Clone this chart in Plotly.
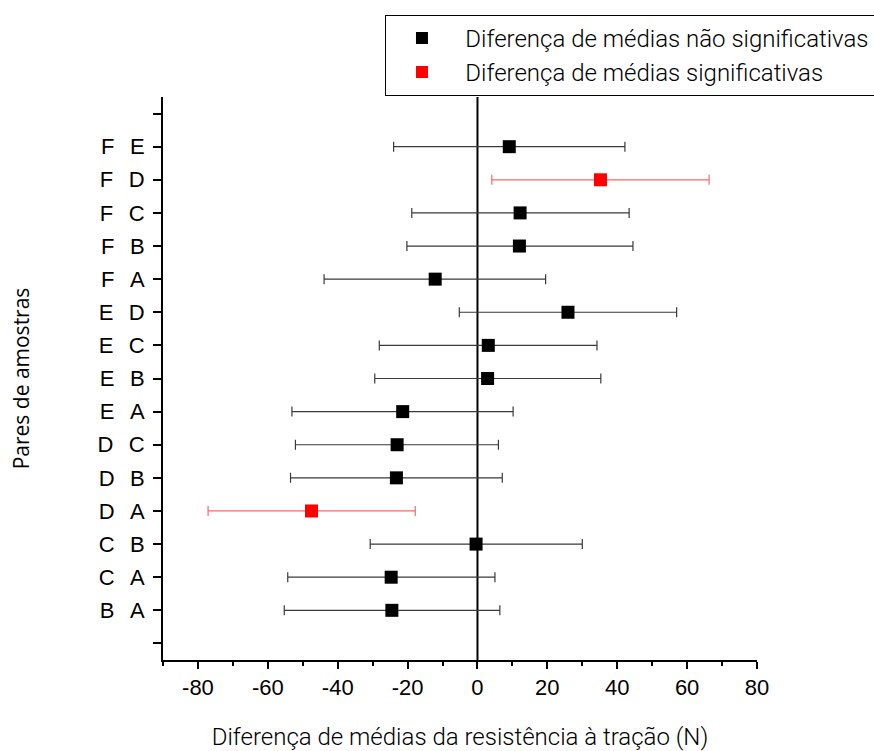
import plotly.graph_objects as go

pairs = ["B A", "C A", "C B", "D A", "D B", "D C", "E A", "E B", "E C", "E D",
         "F A", "F B", "F C", "F D", "F E"]
means = [-24.5, -24.7, -0.4, -47.5, -23.2, -23.0, -21.4, 2.9, 3.1, 25.9,
         -12.1, 12.0, 12.2, 35.2, 9.1]
lower = [-55.3, -54.3, -30.7, -77.1, -53.5, -52.1, -53.1, -29.4, -28.1, -5.2,
         -43.9, -20.2, -18.8, 4.1, -24.0]
upper = [6.4, 5.0, 30.0, -17.8, 7.1, 6.0, 10.2, 35.3, 34.2, 57.0,
         19.5, 44.5, 43.4, 66.3, 42.2]
significant = [False, False, False, True, False, False, False, False, False, False,
               False, False, False, True, False]

x_ticks = [-80, -60, -40, -20, 0, 20, 40, 60, 80]
x_tick_text = [str(v) for v in x_ticks]

tick_vals = list(range(0, len(pairs) + 2))
tick_text = [""] + [p.replace(" ", "\u2002\u2009") for p in pairs] + [""]

TITLE_FONT = "Roboto, sans-serif"
PAD = "\u00a0\u00a0\u00a0\u00a0"

fig = go.Figure()

for sig, name, mcol, ecol in [
    (False, "Diferença de médias não significativas", "black", "#3a3a3a"),
    (True, "Diferença de médias significativas", "red", "rgba(255,0,0,0.6)"),
]:
    idx = [i for i in range(len(pairs)) if significant[i] == sig]
    fig.add_trace(go.Scatter(
        x=[means[i] for i in idx],
        y=[i + 1 for i in idx],
        mode="markers",
        name=PAD + name,
        marker=dict(symbol="square", size=13, color=mcol),
        error_x=dict(
            type="data", symmetric=False,
            array=[upper[i] - means[i] for i in idx],
            arrayminus=[means[i] - lower[i] for i in idx],
            color=ecol, thickness=1.2, width=5,
        ),
    ))

fig.add_shape(type="line", xref="x", yref="paper", x0=0, x1=0, y0=0, y1=1,
              line=dict(color="black", width=2), layer="below")

fig.update_layout(
    width=874, height=751,
    margin=dict(l=163, r=117, t=97, b=91, autoexpand=False),
    paper_bgcolor="white", plot_bgcolor="white",
    font=dict(family="Arial, Liberation Sans, sans-serif", size=22, color="black"),
    showlegend=True,
    legend=dict(
        x=0.3737, xanchor="left", y=1.146, yanchor="top",
        bordercolor="black", borderwidth=1, bgcolor="white",
        font=dict(family=TITLE_FONT, size=24, weight=300),
        itemsizing="constant", tracegroupgap=0, indentation=16,
    ),
    xaxis=dict(
        range=[-90, 80], tickvals=x_ticks, ticktext=x_tick_text, ticks="outside",
        ticklen=7, tickwidth=2, automargin=False,
        tickcolor="black", showline=True, linecolor="black", linewidth=2,
        showgrid=False, zeroline=False, mirror=False,
        minor=dict(dtick=10, tick0=0, ticks="outside", ticklen=4, tickwidth=2, tickcolor="black"),
        tickfont=dict(size=22),
        title=dict(text="Diferença de médias da resistência à tração (N)",
                   font=dict(family=TITLE_FONT, size=24, weight=300),
                   standoff=30),
    ),
    yaxis=dict(
        range=[-0.5, 16.5], tickvals=tick_vals, ticktext=tick_text, ticks="outside",
        ticklen=8, tickwidth=2, tickcolor="black", showline=True, linecolor="black",
        linewidth=2, showgrid=False, zeroline=False, tickfont=dict(size=22),
        automargin=False, ticklabelstandoff=4,
        title=dict(text="Pares de amostras",
                   font=dict(family="Open Sans, sans-serif", size=21),
                   standoff=62),
    ),
)

fig.write_html("out.html")
